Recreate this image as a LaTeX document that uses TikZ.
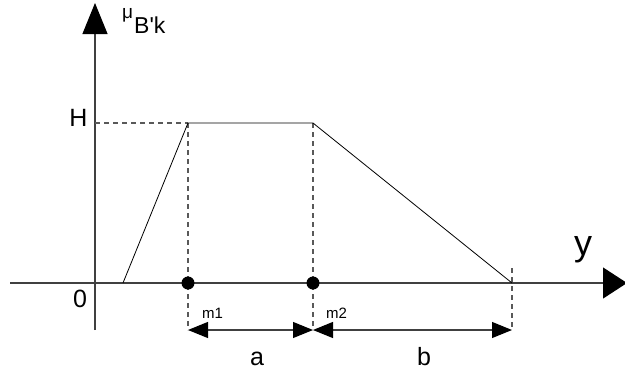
\documentclass[tikz,border=0pt]{standalone}
\usepackage{fontspec}
\setmainfont{Liberation Sans}
\newfontfamily\plainfont{Liberation Sans}
\usetikzlibrary{arrows.meta}
\begin{document}
\begin{tikzpicture}[x=1pt,y=-1pt,
  axis/.style={draw=black!75, line width=1.1pt},
  curve/.style={draw=black, line width=0.8pt},
  guide/.style={draw=black!65, line width=1.1pt, dash pattern=on 5pt off 4pt},
  ytip/.style={-{Triangle[length=31pt,width=25pt,color=black]}},
  xtip/.style={-{Triangle[length=24pt,width=31pt,color=black]}},
  dimtip/.style={{Triangle[length=20pt,width=16pt,color=black]}-{Triangle[length=20pt,width=16pt,color=black]}},
  dot/.style={circle, fill=black, inner sep=0pt, minimum size=13pt},
  lbl/.style={inner sep=0pt, font=\fontsize{25}{27}\selectfont}]
\useasboundingbox (0,0) rectangle (625,370);
% key points
\coordinate (o) at (95,283);
\coordinate (ybot) at (95,330);
\coordinate (ytop) at (95,3);
\coordinate (xl) at (10,283);
\coordinate (xr) at (627,283);
\coordinate (p0) at (123,283);
\coordinate (p1) at (188,123);
\coordinate (p2) at (313,123);
\coordinate (p3) at (512,283);
\coordinate (hy) at (95,123);
\coordinate (d1) at (188,330);
\coordinate (d2) at (313,330);
\coordinate (d3) at (512,330);
\coordinate (t3) at (512,268);
% axes
\draw[axis, ytip] (ybot) -- (ytop);
\draw[axis, xtip] (xl) -- (xr);
% guides
\draw[guide] (hy) -- (p1);
\draw[guide] (p1) -- (d1);
\draw[guide] (p2) -- (d2);
\draw[guide] (t3) -- (d3);
% membership function
\draw[curve] (p0) -- (p1) -- (p2) -- (p3);
% dots
\node[dot] (m1) at (188,283) {};
\node[dot] (m2) at (313,283) {};
% dimensions
\draw[axis, dimtip] (d1) -- (d2);
\draw[axis, dimtip] (d2) -- (d3);
% labels
\node[lbl, anchor=base] (lH) at (78.5,126) {H};
\node[lbl, anchor=base] (l0) at (80,307) {0};
\node[lbl, anchor=base] (la) at (257,365) {a};
\node[lbl, anchor=base] (lb) at (424,365) {b};
\node[inner sep=0pt, anchor=base, font=\fontsize{36}{38}\selectfont] (ly) at (583,255) {y};
\node[inner sep=0pt, anchor=base west, font=\fontsize{15}{16}\selectfont] (lm1) at (202,318) {m1};
\node[inner sep=0pt, anchor=base west, font=\fontsize{15}{16}\selectfont] (lm2) at (326,318) {m2};
\node[inner sep=0pt, anchor=base west, font=\fontsize{19}{20}\selectfont] (lmu) at (122,18) {μ};
\node[inner sep=0pt, anchor=base west, font=\plainfont\fontsize{23}{24}\selectfont] (lbk) at (134,33) {B'k};
\end{tikzpicture}
\end{document}
